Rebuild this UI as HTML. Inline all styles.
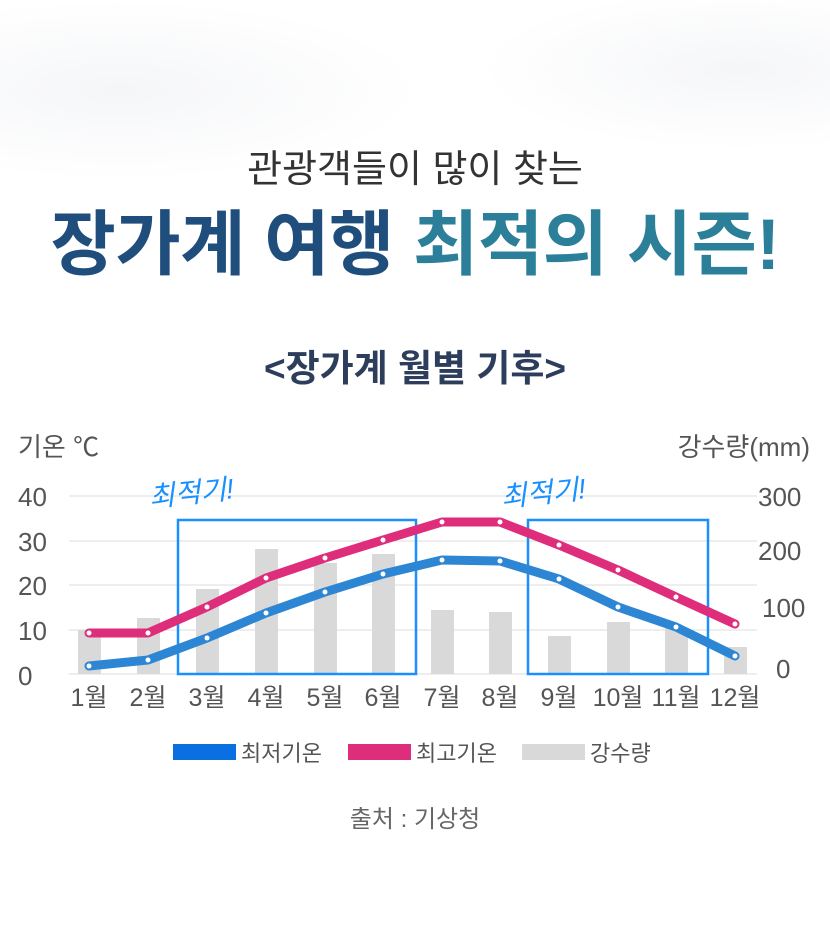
<!DOCTYPE html>
<html><head><meta charset="utf-8"><style>
body{margin:0;width:830px;height:938px;overflow:hidden;background:#fff;font-family:"Liberation Sans","Noto Sans CJK KR",sans-serif;position:relative}
.t{position:absolute;left:0;width:830px;text-align:center;white-space:nowrap}
</style></head><body>
<div style="position:absolute;left:0;top:0;width:830px;height:260px;background:radial-gradient(ellipse 300px 90px at 120px 90px,#f5f6f8,rgba(255,255,255,0)),radial-gradient(ellipse 260px 80px at 740px 70px,#f5f6f8,rgba(255,255,255,0))"></div>
<div class="t" style="top:138px;font-size:38px;color:#333">관광객들이 많이 찾는</div>
<div class="t" style="top:188px;font-size:71px;font-weight:bold;letter-spacing:-0.5px"><span style="color:#1f4d7c">장가계 여행 </span><span style="color:#2b7f99">최적의 시즌!</span></div>
<div class="t" style="top:338px;font-size:37px;font-weight:bold;color:#2c3e5c">&lt;장가계 월별 기후&gt;</div>
<svg style="position:absolute;left:0;top:0" width="830" height="938" font-family="Liberation Sans,Noto Sans CJK KR,sans-serif">
<g stroke="#dddddd" stroke-width="1"><line x1="69" x2="757" y1="496" y2="496"/><line x1="69" x2="757" y1="541" y2="541"/><line x1="69" x2="757" y1="585" y2="585"/><line x1="69" x2="757" y1="630" y2="630"/><line x1="69" x2="757" y1="674" y2="674"/></g>
<g fill="#555" font-size="26"><text x="18" y="456">기온 ℃</text><text x="18" y="506">40</text><text x="18" y="551">30</text><text x="18" y="595">20</text><text x="18" y="640">10</text><text x="18" y="685">0</text>
<text x="810" y="456" text-anchor="end">강수량(mm)</text><text x="758" y="506">300</text><text x="758" y="560">200</text><text x="762" y="617">100</text><text x="776" y="678">0</text></g>
<g fill="#d9d9d9">
<rect x="78" y="630" width="23" height="44"/><rect x="137" y="618" width="23" height="56"/><rect x="196" y="589" width="23" height="85"/><rect x="255" y="549" width="23" height="125"/><rect x="314" y="563" width="23" height="111"/><rect x="372" y="554" width="23" height="120"/><rect x="431" y="610" width="23" height="64"/><rect x="489" y="612" width="23" height="62"/><rect x="548" y="636" width="23" height="38"/><rect x="607" y="622" width="23" height="52"/><rect x="665" y="628" width="23" height="46"/><rect x="724" y="647" width="23" height="27"/></g>
<g fill="none" stroke="#1a90ff" stroke-width="2.5"><rect x="178" y="520" width="238" height="154"/><rect x="528" y="520" width="180" height="154"/></g>
<polyline fill="none" stroke="#de2e7b" stroke-width="9" stroke-linejoin="round" stroke-linecap="round" points="89,633 148,633 207,607 266,578 325,558 383,540 442,522 500,522 559,545 618,570 676,597 735,624"/>
<polyline fill="none" stroke="#2c86d4" stroke-width="9" stroke-linejoin="round" stroke-linecap="round" points="89,666 148,660 207,638 266,613 325,592 383,574 442,560 500,561 559,579 618,607 676,627 735,656"/>
<g fill="#fff"><circle cx="89" cy="633" r="2.5"/><circle cx="148" cy="633" r="2.5"/><circle cx="207" cy="607" r="2.5"/><circle cx="266" cy="578" r="2.5"/><circle cx="325" cy="558" r="2.5"/><circle cx="383" cy="540" r="2.5"/><circle cx="442" cy="522" r="2.5"/><circle cx="500" cy="522" r="2.5"/><circle cx="559" cy="545" r="2.5"/><circle cx="618" cy="570" r="2.5"/><circle cx="676" cy="597" r="2.5"/><circle cx="735" cy="624" r="2.5"/>
<circle cx="89" cy="666" r="2.5"/><circle cx="148" cy="660" r="2.5"/><circle cx="207" cy="638" r="2.5"/><circle cx="266" cy="613" r="2.5"/><circle cx="325" cy="592" r="2.5"/><circle cx="383" cy="574" r="2.5"/><circle cx="442" cy="560" r="2.5"/><circle cx="500" cy="561" r="2.5"/><circle cx="559" cy="579" r="2.5"/><circle cx="618" cy="607" r="2.5"/><circle cx="676" cy="627" r="2.5"/><circle cx="735" cy="656" r="2.5"/></g>
<g fill="#1a90ff" font-size="28" font-style="italic"><text x="150" y="507" transform="rotate(-6 150 507)">최적기!</text><text x="502" y="507" transform="rotate(-6 502 507)">최적기!</text></g>
<g fill="#555" font-size="25" text-anchor="middle"><text x="89" y="706">1월</text><text x="148" y="706">2월</text><text x="207" y="706">3월</text><text x="266" y="706">4월</text><text x="325" y="706">5월</text><text x="383" y="706">6월</text><text x="442" y="706">7월</text><text x="500" y="706">8월</text><text x="559" y="706">9월</text><text x="618" y="706">10월</text><text x="676" y="706">11월</text><text x="735" y="706">12월</text></g>
<rect x="173" y="744" width="63" height="16" fill="#0a6fe0"/><rect x="348" y="744" width="63" height="16" fill="#de2e7b"/><rect x="522" y="744" width="63" height="16" fill="#d9d9d9"/>
<g fill="#555" font-size="22"><text x="241" y="761">최저기온</text><text x="416" y="761">최고기온</text><text x="590" y="761">강수량</text></g>
<text x="415" y="827" text-anchor="middle" fill="#666" font-size="24">출처 : 기상청</text>
</svg>
</body></html>
